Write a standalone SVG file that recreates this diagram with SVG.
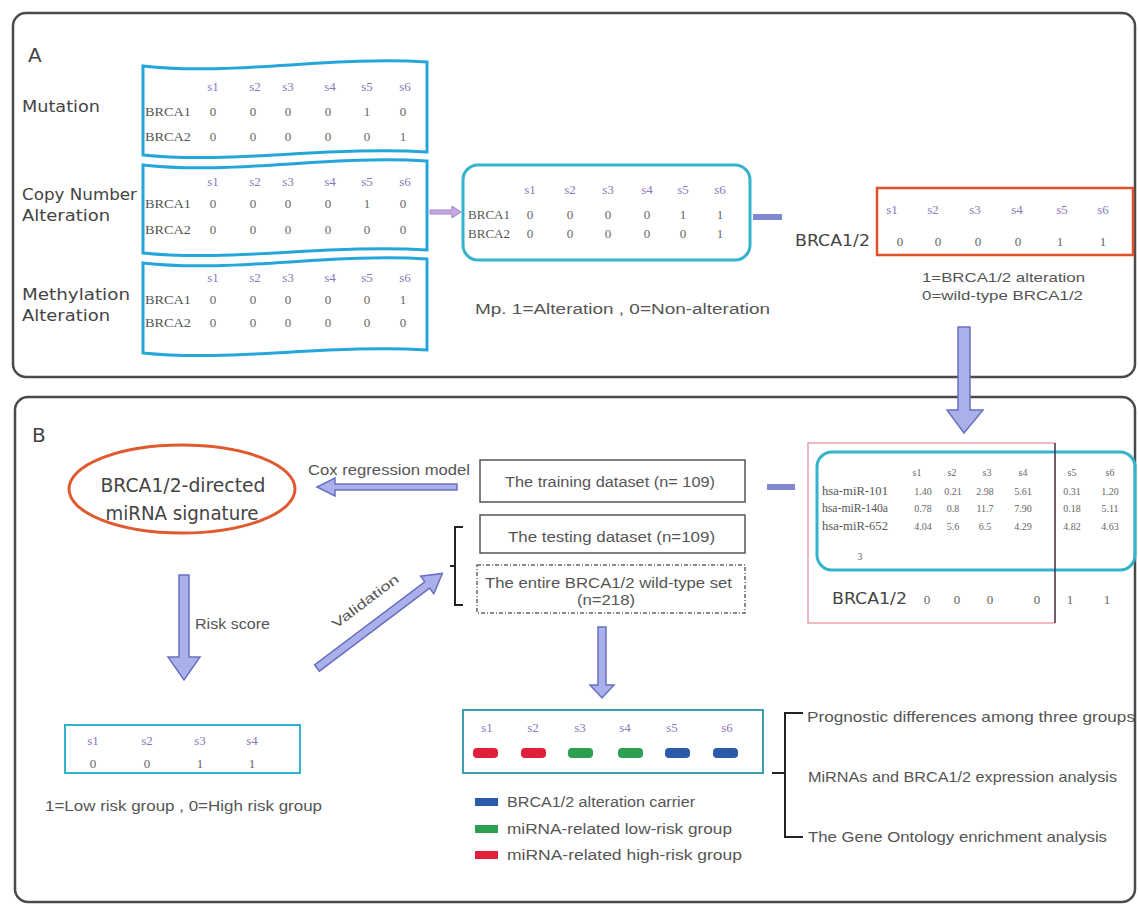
<svg xmlns="http://www.w3.org/2000/svg" width="1138" height="906" viewBox="0 0 1138 906">
<style>
.panel{fill:none;stroke:#4a4a4a;stroke-width:2.5}
.lbl{font-family:"DejaVu Sans",sans-serif;fill:#444}
.t{font-family:"Liberation Sans",Arial,sans-serif;fill:#555}
.hd{font-family:"Liberation Serif",serif;font-size:13px;fill:#8a78b8;text-anchor:middle}
.v{font-family:"Liberation Serif",serif;font-size:13px;fill:#666;text-anchor:middle}
.rl{font-family:"Liberation Serif",serif;font-size:13px;fill:#555}
.wave{fill:#fff;stroke:#25a6da;stroke-width:3}
.cyan{fill:none;stroke:#35b2cc;stroke-width:3}
.barrow{fill:#aab0ea;stroke:#6a70c0;stroke-width:1.5}
.box{fill:#fff;stroke:#555;stroke-width:1.5}
.br{fill:none;stroke:#222;stroke-width:2}
.small{font-family:"Liberation Serif",serif;font-size:10px;fill:#666;text-anchor:middle}
</style>

<g id="panelA">
<rect class="panel" x="13" y="13" width="1122" height="364" rx="13"/>
<text class="lbl" x="28" y="62" font-size="20">A</text>
</g>
<g id="panelB">
<rect class="panel" x="15" y="397" width="1120" height="505" rx="13" stroke="#222"/>
<text class="lbl" x="32" y="442" font-size="20">B</text>
</g>

<g id="mutation">
<text class="lbl" x="22" y="112" font-size="15" textLength="78" lengthAdjust="spacingAndGlyphs">Mutation</text>
<path class="wave" d="M143,66 C230,76 330,56 427,62 L427,152 C330,146 230,164 143,155 Z"/>
<text class="hd" x="213" y="91">s1</text><text class="hd" x="255" y="91">s2</text><text class="hd" x="288" y="91">s3</text><text class="hd" x="330" y="91">s4</text><text class="hd" x="367" y="91">s5</text><text class="hd" x="405" y="91">s6</text>
<text class="rl" x="145" y="116" textLength="46" lengthAdjust="spacingAndGlyphs">BRCA1</text>
<text class="v" x="213" y="116">0</text><text class="v" x="253" y="116">0</text><text class="v" x="288" y="116">0</text><text class="v" x="328" y="116">0</text><text class="v" x="367" y="116">1</text><text class="v" x="403" y="116">0</text>
<text class="rl" x="145" y="141" textLength="46" lengthAdjust="spacingAndGlyphs">BRCA2</text>
<text class="v" x="213" y="141">0</text><text class="v" x="253" y="141">0</text><text class="v" x="288" y="141">0</text><text class="v" x="328" y="141">0</text><text class="v" x="367" y="141">0</text><text class="v" x="403" y="141">1</text>
</g>

<g id="cna">
<text class="lbl" x="22" y="200" font-size="15" textLength="115" lengthAdjust="spacingAndGlyphs">Copy Number</text>
<text class="lbl" x="22" y="221" font-size="15" textLength="88" lengthAdjust="spacingAndGlyphs">Alteration</text>
<path class="wave" d="M143,165 C230,175 330,155 427,161 L427,250 C330,244 230,262 143,253 Z"/>
<text class="hd" x="213" y="186">s1</text><text class="hd" x="255" y="186">s2</text><text class="hd" x="288" y="186">s3</text><text class="hd" x="330" y="186">s4</text><text class="hd" x="367" y="186">s5</text><text class="hd" x="405" y="186">s6</text>
<text class="rl" x="145" y="208" textLength="46" lengthAdjust="spacingAndGlyphs">BRCA1</text>
<text class="v" x="213" y="208">0</text><text class="v" x="253" y="208">0</text><text class="v" x="288" y="208">0</text><text class="v" x="328" y="208">0</text><text class="v" x="367" y="208">1</text><text class="v" x="403" y="208">0</text>
<text class="rl" x="145" y="234" textLength="46" lengthAdjust="spacingAndGlyphs">BRCA2</text>
<text class="v" x="213" y="234">0</text><text class="v" x="253" y="234">0</text><text class="v" x="288" y="234">0</text><text class="v" x="328" y="234">0</text><text class="v" x="367" y="234">0</text><text class="v" x="403" y="234">0</text>
</g>

<g id="methylation">
<text class="lbl" x="22" y="300" font-size="15" textLength="108" lengthAdjust="spacingAndGlyphs">Methylation</text>
<text class="lbl" x="22" y="321" font-size="15" textLength="88" lengthAdjust="spacingAndGlyphs">Alteration</text>
<path class="wave" d="M143,263 C230,273 330,253 427,259 L427,350 C330,344 230,362 143,353 Z"/>
<text class="hd" x="213" y="282">s1</text><text class="hd" x="255" y="282">s2</text><text class="hd" x="288" y="282">s3</text><text class="hd" x="330" y="282">s4</text><text class="hd" x="367" y="282">s5</text><text class="hd" x="405" y="282">s6</text>
<text class="rl" x="145" y="304" textLength="46" lengthAdjust="spacingAndGlyphs">BRCA1</text>
<text class="v" x="213" y="304">0</text><text class="v" x="253" y="304">0</text><text class="v" x="288" y="304">0</text><text class="v" x="328" y="304">0</text><text class="v" x="367" y="304">0</text><text class="v" x="403" y="304">1</text>
<text class="rl" x="145" y="327" textLength="46" lengthAdjust="spacingAndGlyphs">BRCA2</text>
<text class="v" x="213" y="327">0</text><text class="v" x="253" y="327">0</text><text class="v" x="288" y="327">0</text><text class="v" x="328" y="327">0</text><text class="v" x="367" y="327">0</text><text class="v" x="403" y="327">0</text>
</g>

<g id="merged">
<rect class="cyan" x="463" y="165" width="287" height="95" rx="15"/>
<text class="hd" x="530" y="194">s1</text><text class="hd" x="570" y="194">s2</text><text class="hd" x="608" y="194">s3</text><text class="hd" x="647" y="194">s4</text><text class="hd" x="683" y="194">s5</text><text class="hd" x="720" y="194">s6</text>
<text class="rl" x="468" y="219" textLength="42" lengthAdjust="spacingAndGlyphs">BRCA1</text>
<text class="v" x="530" y="219">0</text><text class="v" x="570" y="219">0</text><text class="v" x="608" y="219">0</text><text class="v" x="647" y="219">0</text><text class="v" x="683" y="219">1</text><text class="v" x="720" y="219">1</text>
<text class="rl" x="468" y="238" textLength="42" lengthAdjust="spacingAndGlyphs">BRCA2</text>
<text class="v" x="530" y="238">0</text><text class="v" x="570" y="238">0</text><text class="v" x="608" y="238">0</text><text class="v" x="647" y="238">0</text><text class="v" x="683" y="238">0</text><text class="v" x="720" y="238">1</text>
<text class="t" x="475" y="314" font-size="14" textLength="295" lengthAdjust="spacingAndGlyphs">Mp. 1=Alteration ,  0=Non-alteration</text>
</g>

<g id="brca12">
<text class="lbl" x="795" y="246" font-size="15" textLength="75" lengthAdjust="spacingAndGlyphs">BRCA1/2</text>
<rect x="877" y="188" width="256" height="67" fill="none" stroke="#e0502a" stroke-width="2.5"/>
<text class="hd" x="892" y="214">s1</text><text class="hd" x="933" y="214">s2</text><text class="hd" x="975" y="214">s3</text><text class="hd" x="1017" y="214">s4</text><text class="hd" x="1062" y="214">s5</text><text class="hd" x="1103" y="214">s6</text>
<text class="v" x="900" y="246" font-size="15">0</text><text class="v" x="938" y="246" font-size="15">0</text><text class="v" x="978" y="246" font-size="15">0</text><text class="v" x="1018" y="246" font-size="15">0</text><text class="v" x="1060" y="246" font-size="15">1</text><text class="v" x="1103" y="246" font-size="15">1</text>
<text class="t" x="922" y="282" font-size="13" textLength="163" lengthAdjust="spacingAndGlyphs">1=BRCA1/2 alteration</text>
<text class="t" x="922" y="300" font-size="13" textLength="161" lengthAdjust="spacingAndGlyphs">0=wild-type BRCA1/2</text>
</g>

<g id="signature">
<ellipse cx="182" cy="489" rx="113" ry="44" fill="#fff" stroke="#e05a30" stroke-width="3"/>
<text class="lbl" x="183" y="492" font-size="19" text-anchor="middle" fill="#333" textLength="165" lengthAdjust="spacingAndGlyphs">BRCA1/2-directed</text>
<text class="lbl" x="182" y="520" font-size="19" text-anchor="middle" fill="#333" textLength="153" lengthAdjust="spacingAndGlyphs">miRNA signature</text>
</g>

<g id="training">
<rect class="box" x="480" y="460" width="265" height="42"/>
<text class="t" x="505" y="487" font-size="14" textLength="210" lengthAdjust="spacingAndGlyphs">The training dataset (n= 109)</text>
</g>
<g id="testing">
<rect class="box" x="480" y="515" width="265" height="38"/>
<text class="t" x="508" y="542" font-size="14" textLength="207" lengthAdjust="spacingAndGlyphs">The testing dataset (n=109)</text>
</g>
<g id="entire">
<rect x="477" y="565" width="268" height="48" fill="#fff" stroke="#666" stroke-width="1.5" stroke-dasharray="4 2 1 2"/>
<text class="t" x="485" y="588" font-size="14" textLength="247" lengthAdjust="spacingAndGlyphs">The entire BRCA1/2 wild-type set</text>
<text class="t" x="577" y="605" font-size="14" textLength="58" lengthAdjust="spacingAndGlyphs">(n=218)</text>
</g>

<g id="exprMatrix">
<rect x="808" y="443" width="247" height="180" fill="none" stroke="#e07080" stroke-width="1"/>
<rect class="cyan" x="817" y="452" width="318" height="118" rx="15"/>
<line x1="1055" y1="443" x2="1055" y2="623" stroke="#223" stroke-width="1.2"/>
<text class="small" x="917" y="476">s1</text><text class="small" x="952" y="476">s2</text><text class="small" x="987" y="476">s3</text><text class="small" x="1023" y="476">s4</text><text class="small" x="1072" y="476">s5</text><text class="small" x="1110" y="476">s6</text>
<text class="rl" x="822" y="495" font-size="10" textLength="66" lengthAdjust="spacingAndGlyphs">hsa-miR-101</text>
<text class="small" x="923" y="495">1.40</text><text class="small" x="953" y="495">0.21</text><text class="small" x="985" y="495">2.98</text><text class="small" x="1023" y="495">5.61</text><text class="small" x="1072" y="495">0.31</text><text class="small" x="1110" y="495">1.20</text>
<text class="rl" x="822" y="512" font-size="10" textLength="66" lengthAdjust="spacingAndGlyphs">hsa-miR-140a</text>
<text class="small" x="923" y="512">0.78</text><text class="small" x="953" y="512">0.8</text><text class="small" x="985" y="512">11.7</text><text class="small" x="1023" y="512">7.90</text><text class="small" x="1072" y="512">0.18</text><text class="small" x="1110" y="512">5.11</text>
<text class="rl" x="822" y="530" font-size="10" textLength="66" lengthAdjust="spacingAndGlyphs">hsa-miR-652</text>
<text class="small" x="923" y="530">4.04</text><text class="small" x="953" y="530">5.6</text><text class="small" x="985" y="530">6.5</text><text class="small" x="1023" y="530">4.29</text><text class="small" x="1072" y="530">4.82</text><text class="small" x="1110" y="530">4.63</text>
<text class="small" x="860" y="560">3</text>
<text class="lbl" x="832" y="604" font-size="16" fill="#333" textLength="75" lengthAdjust="spacingAndGlyphs">BRCA1/2</text>
<text class="v" x="927" y="604" font-size="15">0</text><text class="v" x="957" y="604" font-size="15">0</text><text class="v" x="990" y="604" font-size="15">0</text><text class="v" x="1037" y="604" font-size="15">0</text><text class="v" x="1070" y="604" font-size="15">1</text><text class="v" x="1107" y="604" font-size="15">1</text>
</g>

<g id="riskTable">
<rect x="65" y="725" width="235" height="48" fill="#fff" stroke="#2fb4cc" stroke-width="2"/>
<text class="hd" x="93" y="745">s1</text><text class="hd" x="147" y="745">s2</text><text class="hd" x="200" y="745">s3</text><text class="hd" x="252" y="745">s4</text>
<text class="v" x="93" y="768" font-size="14">0</text><text class="v" x="147" y="768" font-size="14">0</text><text class="v" x="200" y="768" font-size="14">1</text><text class="v" x="252" y="768" font-size="14">1</text>
<text class="t" x="45" y="811" font-size="14" textLength="277" lengthAdjust="spacingAndGlyphs">1=Low risk group , 0=High risk group</text>
</g>

<g id="groupTable">
<rect x="463" y="710" width="300" height="63" fill="#fff" stroke="#3aa0b0" stroke-width="2"/>
<text class="hd" x="487" y="732">s1</text><text class="hd" x="533" y="732">s2</text><text class="hd" x="580" y="732">s3</text><text class="hd" x="625" y="732">s4</text><text class="hd" x="672" y="732">s5</text><text class="hd" x="727" y="732">s6</text>
<rect x="473" y="748" width="25" height="10" rx="4" fill="#e0203a"/>
<rect x="521" y="748" width="25" height="10" rx="4" fill="#e0203a"/>
<rect x="568" y="748" width="25" height="10" rx="4" fill="#2aa050"/>
<rect x="618" y="748" width="25" height="10" rx="4" fill="#2aa050"/>
<rect x="665" y="748" width="25" height="10" rx="4" fill="#2a5aa8"/>
<rect x="713" y="748" width="25" height="10" rx="4" fill="#2a5aa8"/>
</g>

<g id="legend">
<rect x="475" y="798" width="23" height="8" fill="#2a5aa8"/>
<text class="t" x="507" y="807" font-size="14" textLength="188" lengthAdjust="spacingAndGlyphs">BRCA1/2 alteration carrier</text>
<rect x="475" y="825" width="23" height="8" fill="#2aa050"/>
<text class="t" x="507" y="834" font-size="14" textLength="225" lengthAdjust="spacingAndGlyphs">miRNA-related low-risk group</text>
<rect x="475" y="851" width="23" height="8" fill="#e0203a"/>
<text class="t" x="507" y="860" font-size="14" textLength="235" lengthAdjust="spacingAndGlyphs">miRNA-related high-risk group</text>
</g>

<g id="analyses">
<text class="t" x="807" y="722" font-size="15" textLength="328" lengthAdjust="spacingAndGlyphs">Prognostic differences among three groups</text>
<text class="t" x="808" y="782" font-size="15" textLength="309" lengthAdjust="spacingAndGlyphs">MiRNAs and BRCA1/2 expression analysis</text>
<text class="t" x="808" y="842" font-size="15" textLength="299" lengthAdjust="spacingAndGlyphs">The Gene Ontology enrichment analysis</text>
</g>

<g id="connectors">
<path d="M430,210 L452,210 L452,206 L461,212 L452,218 L452,214 L430,214 Z" fill="#c8a8e0" stroke="#a080c8" stroke-width="1"/>
<rect x="753" y="214" width="29" height="6" fill="#8088d0"/>
<polygon class="barrow" points="958,327 970,327 970,410 983,410 964,433 947,410 958,410"/>
<rect x="767" y="484" width="28" height="6" fill="#8088d0"/>
<polygon class="barrow" points="457,484 457,490 335,490 335,496 317,487 335,478 335,484"/>
<text class="t" x="308" y="475" font-size="14" textLength="162" lengthAdjust="spacingAndGlyphs">Cox regression model</text>
<polygon class="barrow" points="179,575 189,575 189,657 200,657 184,680 168,657 179,657"/>
<text class="t" x="195" y="629" font-size="14" textLength="75" lengthAdjust="spacingAndGlyphs">Risk score</text>
<polygon class="barrow" transform="translate(317,668) rotate(-37)" points="0,-4 138,-4 138,-11 157,0 138,11 138,4 0,4"/>
<text class="t" transform="translate(368,605) rotate(-37)" x="0" y="0" font-size="13" text-anchor="middle" textLength="80" lengthAdjust="spacingAndGlyphs">Validation</text>
<polygon class="barrow" points="598,627 606,627 606,685 614,685 602,698 590,685 598,685"/>
<path class="br" d="M463,527 L455,527 L455,605 L463,605 M455,566 L450,566"/>
<path class="br" d="M803,713 L785,713 L785,837 L803,837 M785,773 L772,773"/>
</g>
</svg>
